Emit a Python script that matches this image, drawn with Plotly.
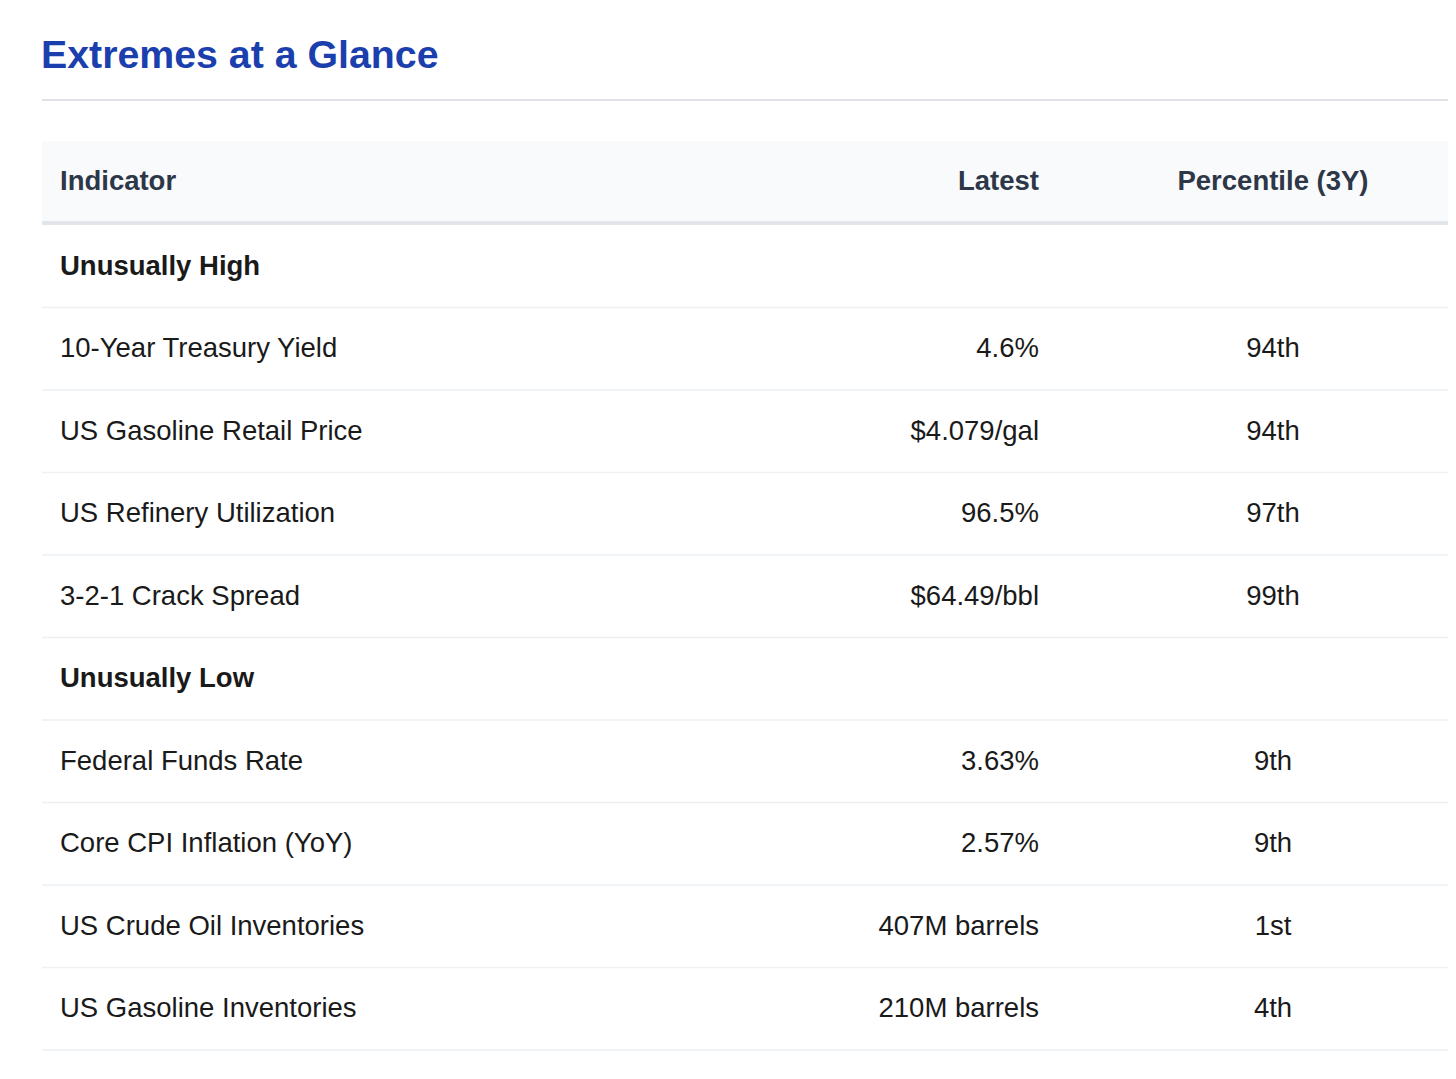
import plotly.graph_objects as go

# ---------------- data ----------------
title_text = "Extremes at a Glance"
col_headers = ["Indicator", "Latest", "Percentile (3Y)"]

section_high = "Unusually High"
high_indicators = ["10-Year Treasury Yield", "US Gasoline Retail Price",
                   "US Refinery Utilization", "3-2-1 Crack Spread"]
high_latest = ["4.6%", "$4.079/gal", "96.5%", "$64.49/bbl"]
high_percentile = ["94th", "94th", "97th", "99th"]

section_low = "Unusually Low"
low_indicators = ["Federal Funds Rate", "Core CPI Inflation (YoY)",
                  "US Crude Oil Inventories", "US Gasoline Inventories"]
low_latest = ["3.63%", "2.57%", "407M barrels", "210M barrels"]
low_percentile = ["9th", "9th", "1st", "4th"]

# ---------------- layout constants (page pixels) ----------------
PAGE_W, PAGE_H = 1456, 1079
OFF = 8                       # default body margin of the html page
W, H = PAGE_W - 2 * OFF, PAGE_H - 2 * OFF
BODY_TOP = 225.0
ROW_H = 82.5
X_LEFT = 42
X_IND = 60
X_LATEST = 1039
X_PCT = 1273
TEXT_DY = 1.5 / ROW_H         # small vertical nudge for text baseline

FONT = "Liberation Sans, Arial, Helvetica, sans-serif"
FS = 27.5
TEXT_COLOR = "#1a1a1a"
HEAD_COLOR = "#2d3748"
TITLE_COLOR = "#1c3fae"
LINE_COLOR = "#edf0f4"


def px_to_y(p):
    return -0.5 + (p - BODY_TOP) / ROW_H


# assemble rows
rows = []  # (kind, indicator, latest, pct)
rows.append(("section", section_high, "", ""))
for a, b, c in zip(high_indicators, high_latest, high_percentile):
    rows.append(("data", a, b, c))
rows.append(("section", section_low, "", ""))
for a, b, c in zip(low_indicators, low_latest, low_percentile):
    rows.append(("data", a, b, c))

sec_idx = [i for i, r in enumerate(rows) if r[0] == "section"]
dat_idx = [i for i, r in enumerate(rows) if r[0] == "data"]

fig = go.Figure()


def add_text(x, y, text, pos, size=FS, color=TEXT_COLOR, weight=400):
    fig.add_trace(go.Scatter(
        x=x, y=[v + TEXT_DY for v in y], mode="text", text=text,
        textposition=pos,
        textfont=dict(family=FONT, size=size, color=color, weight=weight),
        hoverinfo="skip", showlegend=False, cliponaxis=False))


# section labels (bold)
add_text([X_IND] * len(sec_idx), sec_idx, [rows[i][1] for i in sec_idx],
         "middle right", weight=700)
# indicator names
add_text([X_IND] * len(dat_idx), dat_idx, [rows[i][1] for i in dat_idx],
         "middle right")
# latest values (right aligned)
add_text([X_LATEST] * len(dat_idx), dat_idx, [rows[i][2] for i in dat_idx],
         "middle left")
# percentiles (centered)
add_text([X_PCT] * len(dat_idx), dat_idx, [rows[i][3] for i in dat_idx],
         "middle center")

# header texts
head_y = px_to_y(182)
add_text([X_IND], [head_y], [col_headers[0]], "middle right",
         color=HEAD_COLOR, weight=700)
add_text([X_LATEST], [head_y], [col_headers[1]], "middle left",
         color=HEAD_COLOR, weight=700)
add_text([X_PCT], [head_y], [col_headers[2]], "middle center",
         color=HEAD_COLOR, weight=700)

# title
add_text([41], [px_to_y(57)], [title_text], "middle right",
         size=39.3, color=TITLE_COLOR, weight=700)

XR = PAGE_W + 50
shapes = []
# title separator
shapes.append(dict(type="line", xref="x", yref="y", x0=X_LEFT, x1=XR,
                   y0=px_to_y(100), y1=px_to_y(100),
                   line=dict(color="#dfe1e6", width=2), layer="below"))
# header background
shapes.append(dict(type="rect", xref="x", yref="y", x0=X_LEFT, x1=XR,
                   y0=px_to_y(141), y1=px_to_y(221),
                   fillcolor="#f8fafc", line=dict(width=0), layer="below"))
# header bottom border
shapes.append(dict(type="line", xref="x", yref="y", x0=X_LEFT, x1=XR,
                   y0=px_to_y(223), y1=px_to_y(223),
                   line=dict(color="#e2e5ea", width=4), layer="below"))
# row separators
for i in range(len(rows)):
    shapes.append(dict(type="line", xref="x", yref="y", x0=X_LEFT, x1=XR,
                       y0=i + 0.5, y1=i + 0.5,
                       line=dict(color=LINE_COLOR, width=1.5), layer="below"))

fig.update_layout(
    width=W, height=H,
    margin=dict(l=0, r=0, t=0, b=0),
    paper_bgcolor="white", plot_bgcolor="white",
    xaxis=dict(range=[OFF, OFF + W], visible=False, fixedrange=True),
    yaxis=dict(range=[px_to_y(OFF + H), px_to_y(OFF)], visible=False,
               fixedrange=True),
    shapes=shapes,
    showlegend=False,
)

fig.write_html("out.html", config={"displayModeBar": False})
